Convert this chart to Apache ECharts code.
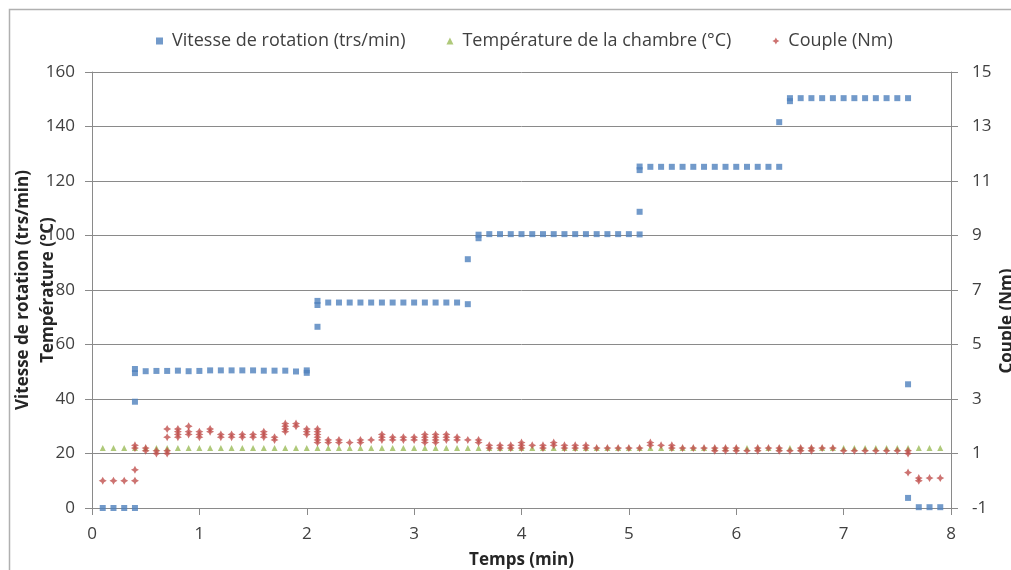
<!DOCTYPE html>
<html>
<head>
<meta charset="utf-8">
<script src="https://cdn.jsdelivr.net/npm/echarts@6/dist/echarts.min.js"></script>
<style>html,body{margin:0;padding:0;background:#fff;}#c{width:1011px;height:570px;}</style>
</head>
<body>
<div id="c"></div>
<script>
// ---- data ----
const times = [0.1,0.2,0.3,0.4,0.5,0.6,0.7,0.8,0.9,1.0,
  1.1,1.2,1.3,1.4,1.5,1.6,1.7,1.8,1.9,2.0,
  2.1,2.2,2.3,2.4,2.5,2.6,2.7,2.8,2.9,3.0,
  3.1,3.2,3.3,3.4,3.5,3.6,3.7,3.8,3.9,4.0,
  4.1,4.2,4.3,4.4,4.5,4.6,4.7,4.8,4.9,5.0,
  5.1,5.2,5.3,5.4,5.5,5.6,5.7,5.8,5.9,6.0,
  6.1,6.2,6.3,6.4,6.5,6.6,6.7,6.8,6.9,7.0,
  7.1,7.2,7.3,7.4,7.5,7.6,7.7,7.8,7.9];

// Vitesse de rotation (trs/min) — several readings per time step
const speed = [[0],[0],[0],[0,39,49.5,51],[50.2],[50.3],[50.3],[50.4],[50.2],[50.3],
  [50.5],[50.5],[50.5],[50.5],[50.5],[50.4],[50.4],[50.4],[50.1],[49.6,50.5],
  [66.5,74.5,76],[75.4],[75.4],[75.4],[75.4],[75.4],[75.4],[75.4],[75.4],[75.4],
  [75.4],[75.4],[75.4],[75.4],[74.8,91.3],[99,100.3],[100.5],[100.5],[100.5],[100.5],
  [100.5],[100.5],[100.5],[100.5],[100.5],[100.5],[100.5],[100.5],[100.5],[100.5],
  [100.4,108.7,124,125.3],[125.2],[125.2],[125.2],[125.2],[125.2],[125.2],[125.2],[125.2],[125.2],
  [125.2],[125.2],[125.2],[125.2,141.6],[149.3,150.4],[150.4],[150.4],[150.4],[150.4],[150.4],
  [150.4],[150.4],[150.4],[150.4],[150.4],[150.4,45.4,3.7],[0.3],[0.3],[0.3]];

// Température de la chambre (°C)
const temperature = [22,22,22,22,22,22,22,22,22,22,
  22,22,22,22,22,22,22,22,22,22,
  22,22,22,22,22,22,22,22,22,22,
  22,22,22,22,22,22,22,22,22,22,
  22,22,22,22,22,22,22,22,22,22,
  22,22,22,22,22,22,22,22,22,22,
  22,22,22,22,22,22,22,22,22,22,
  22,22,22,22,22,22,22,22,22];

// Couple (Nm) — right axis
const torque = [[0],[0],[0],[0,0.4,1.2,1.3],[1.1,1.2],[1.0,1.1],[1.0,1.1,1.6,1.9],[1.6,1.7,1.8,1.9],[1.7,1.8,2.0],[1.6,1.7,1.8],
  [1.8,1.9],[1.6,1.7],[1.6,1.7],[1.6,1.7],[1.6,1.7],[1.6,1.7,1.8],[1.5,1.6],[1.8,1.9,2.0,2.1],[2.0,2.1],[1.7,1.8,1.9],
  [1.4,1.5,1.6,1.7,1.8,1.9],[1.4,1.5],[1.4,1.5],[1.4],[1.4,1.5],[1.5],[1.5,1.6,1.7],[1.5,1.6],[1.5,1.6],[1.5,1.6],
  [1.4,1.5,1.6,1.7],[1.4,1.5,1.6,1.7],[1.5,1.6,1.7],[1.5,1.6],[1.5],[1.4,1.5],[1.2,1.3],[1.2,1.3],[1.2,1.3],[1.2,1.3,1.4],
  [1.3],[1.2,1.3],[1.3,1.4],[1.2,1.3],[1.2,1.3],[1.2,1.3],[1.2],[1.2],[1.2],[1.2],
  [1.2],[1.3,1.4],[1.3],[1.2,1.3],[1.2],[1.2],[1.2],[1.1,1.2],[1.1,1.2],[1.1,1.2],
  [1.1],[1.1,1.2],[1.2],[1.1,1.2],[1.1],[1.1,1.2],[1.1,1.2],[1.2],[1.2],[1.1],
  [1.1],[1.1],[1.1],[1.1],[1.1],[0.3,1.0,1.1],[0.0,0.1],[0.1],[0.1]];

const seriesNames = ['Vitesse de rotation (trs/min)', 'Température de la chambre (°C)', 'Couple (Nm)'];
const xTitle = 'Temps (min)';
const yLeftTitle = 'Vitesse de rotation (trs/min)\nTempérature (°C)';
const yRightTitle = 'Couple (Nm)';

// ---- build pairs ----
function pairs(multi) {
  const out = [];
  multi.forEach((vals, i) => vals.forEach(v => out.push([times[i], v])));
  return out;
}
const speedData = pairs(speed);
const tempData = temperature.map((v, i) => [times[i], v]);
const torqueData = pairs(torque);

const FONT = '"Open Sans", "DejaVu Sans", sans-serif';
const axisGray = '#8a8a8a';
const starPath = 'path://M0,-10 L3.5,-3.5 L10,0 L3.5,3.5 L0,10 L-3.5,3.5 L-10,0 L-3.5,-3.5 Z';

const chart = echarts.init(document.getElementById('c'), null, {renderer: 'canvas'});
chart.setOption({
  animation: false,
  backgroundColor: '#fff',
  textStyle: {fontFamily: FONT},
  graphic: [{
    type: 'rect', left: 7, top: 7, silent: true, z: -1,
    shape: {x: 0, y: 0, width: 1100, height: 700},
    style: {fill: 'none', stroke: '#b0b0b0', lineWidth: 1.5}
  }],
  legend: {
    top: 27, left: 151, itemGap: 41, itemWidth: 7, itemHeight: 7,
    textStyle: {fontFamily: FONT, fontSize: 18, color: '#404040', padding: [0, 0, 0, 4]},
    data: [
      {name: seriesNames[0], icon: 'rect'},
      {name: seriesNames[1], icon: 'triangle'},
      {name: seriesNames[2], icon: starPath}
    ]
  },
  grid: {left: 92, right: 60, top: 72, bottom: 62, containLabel: false, outerBoundsMode: 'none'},
  xAxis: {
    type: 'value', min: 0, max: 8, interval: 1,
    name: xTitle, nameLocation: 'middle', nameGap: 44, nameMoveOverlap: false,
    nameTextStyle: {fontFamily: FONT, fontSize: 17, fontWeight: 'bold', color: '#262626'},
    axisLine: {show: true, lineStyle: {color: axisGray}},
    axisTick: {show: true, length: 7, lineStyle: {color: axisGray}},
    axisLabel: {fontSize: 17, color: '#404040', margin: 18, fontFamily: FONT},
    splitLine: {show: false}
  },
  yAxis: [{
    type: 'value', min: 0, max: 160, interval: 20, position: 'left',
    name: yLeftTitle, nameLocation: 'middle', nameGap: 31, nameRotate: 90, nameMoveOverlap: false,
    nameTextStyle: {fontFamily: FONT, fontSize: 17, fontWeight: 'bold', color: '#262626', lineHeight: 25},
    axisLine: {show: true, lineStyle: {color: axisGray}},
    axisTick: {show: true, length: 7, lineStyle: {color: axisGray}},
    axisLabel: {fontSize: 17, color: '#404040', margin: 17, fontFamily: FONT},
    splitLine: {show: true, lineStyle: {color: axisGray, width: 1}}
  }, {
    type: 'value', min: -1, max: 15, interval: 2, position: 'right',
    name: yRightTitle, nameLocation: 'middle', nameGap: 48, nameRotate: 90, nameMoveOverlap: false,
    nameTextStyle: {fontFamily: FONT, fontSize: 17, fontWeight: 'bold', color: '#262626', padding: [0, 62, 0, 0]},
    axisLine: {show: true, lineStyle: {color: axisGray}},
    axisTick: {show: true, length: 7, lineStyle: {color: axisGray}},
    axisLabel: {fontSize: 17, color: '#404040', margin: 21, fontFamily: FONT},
    splitLine: {show: false}
  }],
  series: [{
    name: seriesNames[0], type: 'scatter', xAxisIndex: 0, yAxisIndex: 0,
    symbol: 'rect', symbolSize: 6, itemStyle: {color: '#4f81bd'},
    data: speedData
  }, {
    name: seriesNames[1], type: 'scatter', xAxisIndex: 0, yAxisIndex: 0,
    symbol: 'triangle', symbolSize: 6, itemStyle: {color: '#9bbb59'},
    data: tempData
  }, {
    name: seriesNames[2], type: 'scatter', xAxisIndex: 0, yAxisIndex: 1,
    symbol: starPath, symbolSize: 8, itemStyle: {color: '#c0504d'},
    data: torqueData
  }]
});
</script>
</body>
</html>
